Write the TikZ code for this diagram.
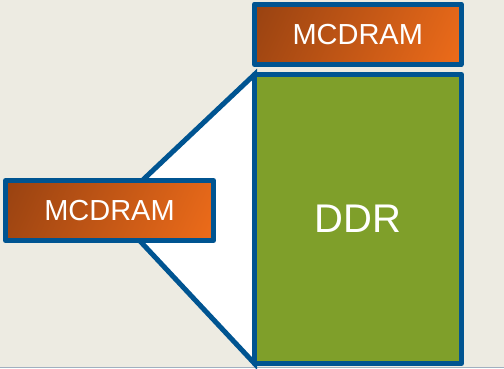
\documentclass[tikz,border=0pt]{standalone}
\usepackage{fontspec}
\setmainfont{Liberation Sans}
\pgfdeclarelayer{back}
\pgfsetlayers{back,main}
\definecolor{slidebg}{RGB}{237,235,226}
\definecolor{edgeblue}{RGB}{0,84,145}
\definecolor{ddrgreen}{RGB}{127,159,42}
\definecolor{mcdark}{RGB}{152,66,17}
\definecolor{mcbright}{RGB}{238,108,26}
\definecolor{rule}{RGB}{160,176,192}
% diagonal orange ramp: dark corner at top left, bright corner at bottom right
\pgfdeclarehorizontalshading{mcramp}{240bp}{color(0bp)=(mcdark); color(214bp)=(mcbright)}
\tikzset{
  memframe/.style={draw=edgeblue, line width=5pt, line join=round, outer sep=0pt, inner sep=0pt},
  mcdram/.style={memframe, text=white, font=\fontsize{29}{31}\selectfont,
    path picture={
      \begin{pgfscope}
        \pgftransformshift{\pgfpointanchor{path picture bounding box}{center}}
        \pgftransformrotate{-25}
        \pgflowlevelsynccm
        \pgftext{\pgfuseshading{mcramp}}
      \end{pgfscope}
    }},
  ddr/.style={memframe, fill=ddrgreen, text=white, font=\fontsize{40}{44}\selectfont},
  funnel/.style={draw=edgeblue, fill=white, line width=5pt, line join=miter}
}
\begin{document}
\begin{tikzpicture}[x=1pt, y=-1pt]
\useasboundingbox (0,0) rectangle (504,368);
% main memory and the two high-bandwidth blocks
\node[ddr, minimum width=207pt, minimum height=289pt] (ddr) at (358,219) {DDR};
\node[mcdram, minimum width=206.5pt, minimum height=60.5pt] (mctop) at (357.75,34.25) {MCDRAM};
\node[mcdram, minimum width=208pt, minimum height=60pt] (mcleft) at (109.5,210.5) {MCDRAM};
\coordinate (apex) at (111,210);
\begin{pgfonlayer}{back}
  \fill[slidebg] (0,0) rectangle (504,368);
  \draw[rule, line width=1pt] (0,367.5) -- (504,367.5);
  % funnel from the side block onto the DDR block
  \draw[funnel] (ddr.north west) -- (apex) -- (ddr.south west) -- cycle;
\end{pgfonlayer}
\end{tikzpicture}
\end{document}
